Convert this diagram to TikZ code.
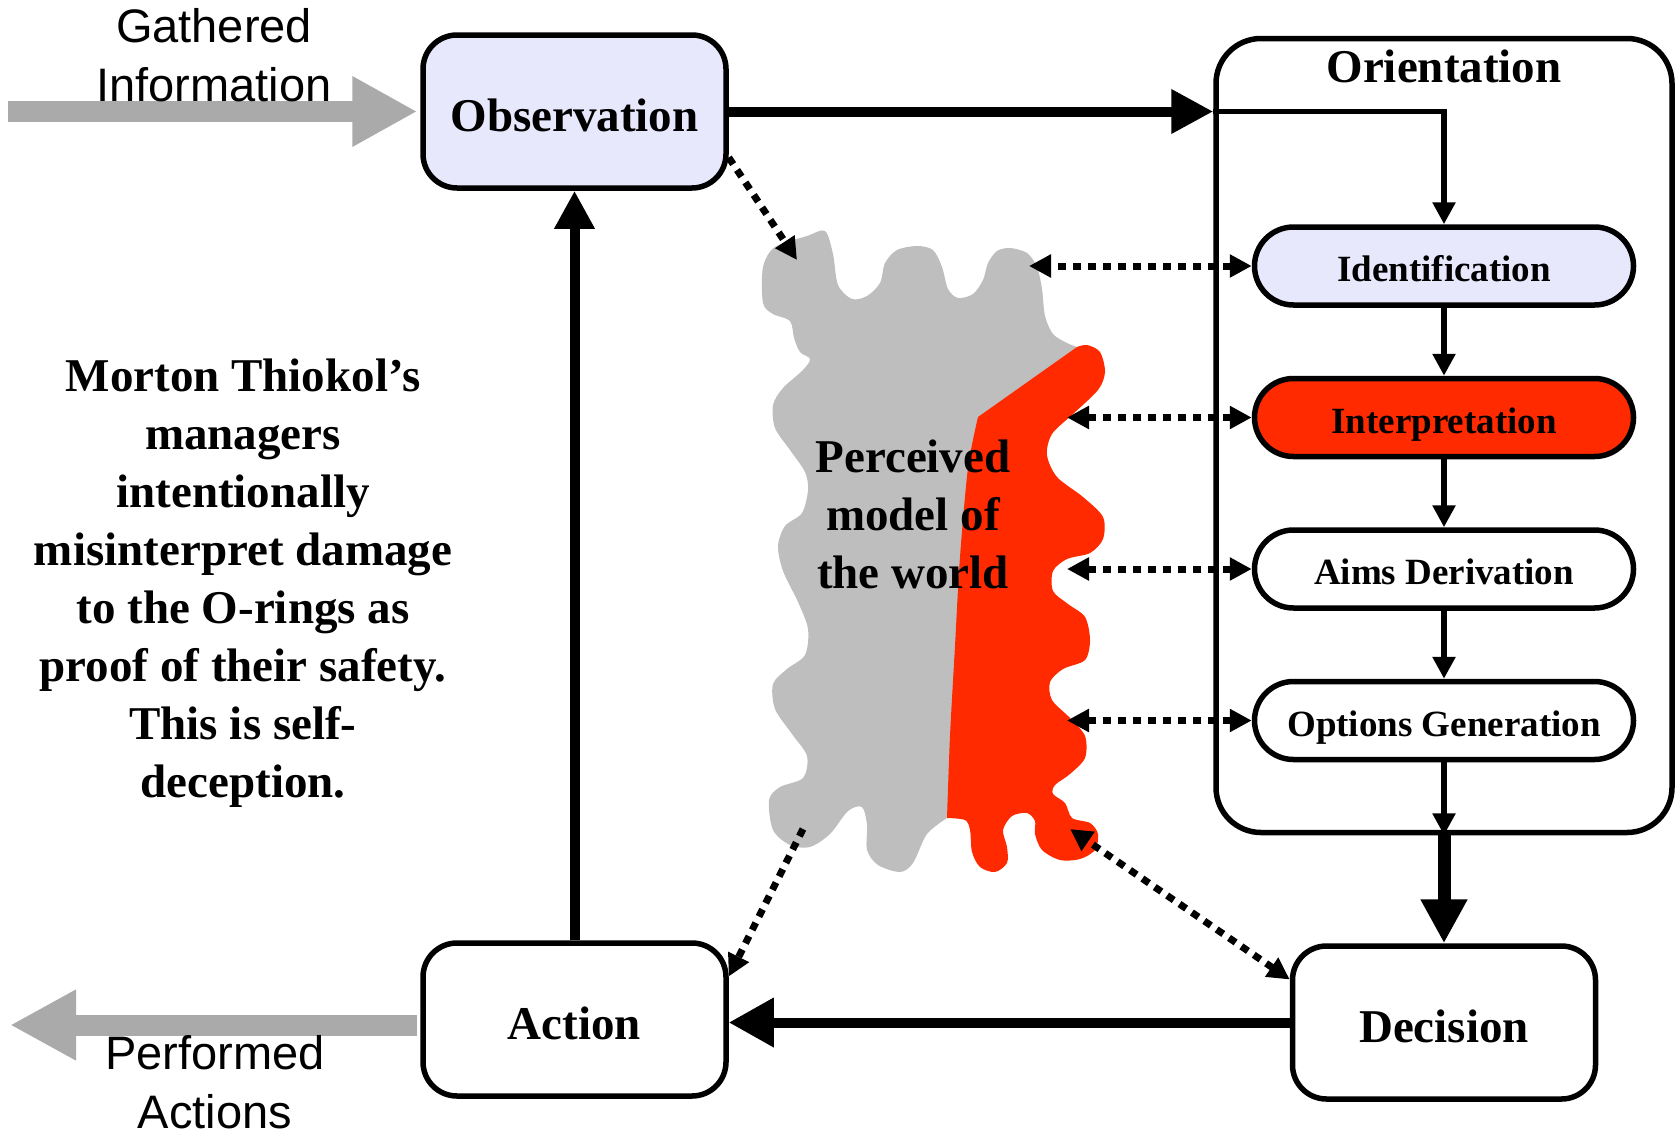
\documentclass[tikz,border=0pt]{standalone}
\usepackage{fontspec}
\setmainfont{Liberation Serif}
\newfontfamily\arialfont{Liberation Sans}
\usetikzlibrary{arrows.meta, positioning, calc}

\definecolor{obsblue}{RGB}{232,232,252}
\definecolor{misred}{RGB}{255,42,0}
\definecolor{blobgray}{RGB}{190,190,190}
\definecolor{flowgray}{RGB}{170,170,170}

\newcommand{\bigfont}{\fontsize{47}{58}\selectfont\bfseries}
\newcommand{\pillfont}{\fontsize{37}{44}\selectfont\bfseries}
\newcommand{\labelfont}{\arialfont\fontsize{47}{59}\selectfont}

\begin{document}
\begin{tikzpicture}[x=1pt, y=-1pt,
    >={Triangle[length=22pt,width=22pt]},
    box/.style={draw, line width=5.5pt, rounded corners=34pt, minimum width=303pt, minimum height=153pt, inner sep=0pt, text height=40pt, text depth=0pt, font=\bigfont},
    pill/.style={draw, line width=5.5pt, rounded corners=39pt, minimum width=379pt, minimum height=78pt, inner sep=0pt, text height=31pt, text depth=0pt, font=\pillfont},
    thinline/.style={line width=5.5pt},
    thickline/.style={line width=10pt},
    dotline/.style={line width=7pt, dash pattern=on 8pt off 7pt},
    flowline/.style={flowgray, line width=21pt}]
    \useasboundingbox (0,0) rectangle (1678,1135);

    % Perceived model of the world
    \fill[blobgray] plot[smooth] coordinates {(1077,347) (1067,343) (1053,334) (1045,316) (1042,289) (1037,267) (1027,253) (1010,248) (997,251) (988,263) (983,280) (973,294) (958,298) (948,289) (942,267) (933,250) (917,246) (897,250) (885,263) (880,283) (867,296) (852,299) (838,285) (833,254) (825,231) (807,236) (775,247) (763,267) (763,303) (773,314) (790,321) (794,338) (800,352) (810,359) (803,370) (783,388) (773,405) (775,428) (790,450) (805,472) (808,490) (802,513) (785,526) (778,546) (783,571) (798,602) (808,629) (805,655) (787,669) (773,684) (775,709) (792,734) (807,756) (803,778) (780,787) (769,800) (773,830) (790,845) (810,847) (830,834) (848,811) (862,807) (867,825) (867,850) (878,865) (900,872) (913,863) (927,834) (947,818)}
        -- (960,810) -- (990,420) -- (1070,360) -- cycle;
    \fill[misred] (978,417) -- plot[smooth] coordinates {(1077,347) (1087,345) (1100,352) (1105,372) (1098,390) (1073,414) (1052,434) (1047,455) (1057,477) (1083,497) (1103,517) (1103,539) (1090,553) (1067,559) (1053,571) (1053,591) (1068,604) (1085,617) (1090,640) (1085,660) (1063,669) (1050,682) (1052,700) (1070,718) (1085,736) (1085,758) (1070,774) (1055,785) (1053,794) (1065,803) (1072,818) (1090,823) (1098,834) (1095,850) (1080,859) (1060,860) (1042,850) (1035,834) (1035,821) (1027,813) (1012,816) (1003,830) (1007,847) (1007,863) (995,872) (980,867) (972,852) (970,830) (965,820) (947,818)}
        -- plot[smooth] coordinates {(947,818) (950,736) (955,646) (960,557) (968,468) (978,417)} -- cycle;
    \node[font=\bigfont, align=center] (world) at (913,514) {Perceived\\model of\\the world};

    % The four stages
    \node[box, fill=obsblue] (obs) at (574.5,111.5) {Observation};
    \node[box] (act) at (574.5,1019.5) {Action};
    \node[box] (dec) at (1444,1022.5) {Decision};
    \node[draw, line width=5.5pt, rounded corners=45pt, minimum width=456pt, minimum height=794pt] (orient) at (1444,435.5) {};
    \node[font=\bigfont] (orienttitle) at (1444,66) {Orientation};

    % Steps inside Orientation
    \node[pill, fill=obsblue] (ident) at (1444,266) {Identification};
    \node[pill, fill=misred, below=68pt of ident] (interp) {Interpretation};
    \node[pill, below=68pt of interp] (aims) {Aims Derivation};
    \node[pill, below=68pt of aims] (opts) {Options Generation};

    % Outside world
    \coordinate (gin) at (8,111.5);
    \coordinate (gout) at (10,1025);
    \draw[flowline, shorten >=3pt, -{Triangle[length=65pt,width=66pt]}] (gin) -- (obs.west);
    \draw[flowline, shorten <=3pt, -{Triangle[length=66pt,width=66pt]}] (act.west |- gout) -- (gout);
    \node[font=\labelfont, align=center] (gathered) at (214,55) {Gathered\\Information};
    \node[font=\labelfont, align=center] (performed) at (215,1082) {Performed\\Actions};

    % Main loop
    \draw[thickline, -{Triangle[length=42pt,width=42pt]}] (obs.east) -- (obs.east -| orient.west);
    \draw[thinline, ->] (obs.east -| orient.west) -| (ident.north);
    \draw[thinline, ->] (ident.south) -- (interp.north);
    \draw[thinline, ->] (interp.south) -- (aims.north);
    \draw[thinline, ->] (aims.south) -- (opts.north);
    \draw[thinline, ->] (opts.south) -- (opts.south |- orient.south);
    \draw[line width=13pt, -{Triangle[length=44pt,width=44pt]}] (opts.south |- orient.south) -- (dec.north);
    \draw[thickline, -{Triangle[length=45pt,width=47pt]}] (dec.west) -- (act.east |- dec.west);
    \draw[thickline, -{Triangle[length=38pt,width=38pt]}] (act.north) -- (obs.south);

    % Links with the perceived model
    \coordinate (bobs) at (797,260);
    \coordinate (bident) at (1029,263);
    \coordinate (bmodel) at (1067,414);
    \coordinate (bdec) at (1070,829);
    \coordinate (bact) at (803,829);
    \draw[dotline, ->] ([yshift=-46pt]obs.east) -- (bobs);
    \draw[dotline, <->] (ident.west) -- (ident.west -| bident);
    \draw[dotline, <->] (interp.west) -- (interp.west -| bmodel);
    \draw[dotline, <->] (aims.west) -- (aims.west -| bmodel);
    \draw[dotline, <->] (opts.west) -- (opts.west -| bmodel);
    \draw[dotline, <->] ([yshift=43pt]dec.west) -- (bdec);
    \draw[dotline, ->] (bact) -- ([yshift=43pt]act.east);

    % Comment on the left
    \node[font=\bigfont, align=center] (note) at (243,583) {Morton Thiokol’s\\managers\\intentionally\\misinterpret damage\\to the O-rings as\\proof of their safety.\\This is self-\\deception.};
\end{tikzpicture}
\end{document}
